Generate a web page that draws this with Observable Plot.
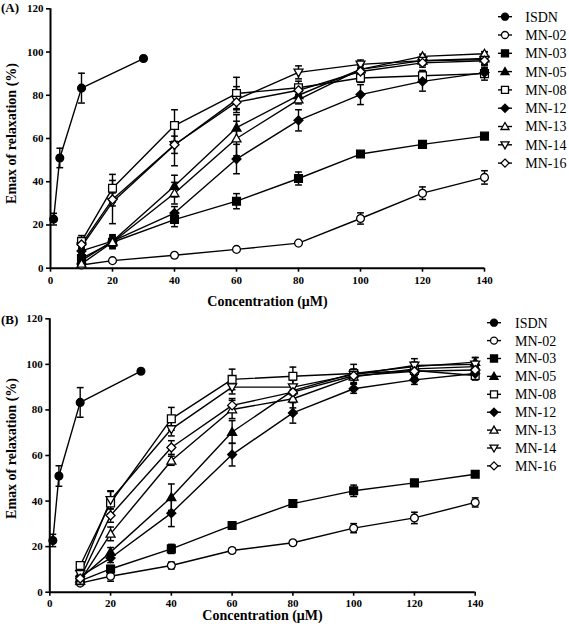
<!DOCTYPE html>
<html>
<head>
<meta charset="utf-8">
<script src="https://cdn.jsdelivr.net/npm/d3@7"></script>
<script src="https://cdn.jsdelivr.net/npm/@observablehq/plot@0.6"></script>
<style>
  html, body { margin: 0; padding: 0; background: white; }
  #root { position: relative; width: 569px; height: 633px; overflow: hidden; background: white; }
  .abs { position: absolute; }
  .plabel { font-family: "Liberation Serif", "Times New Roman", serif; font-weight: bold; font-size: 13px; color: black; line-height: 1; }
</style>
</head>
<body>
<div id="root"></div>
<script>
// ---------------- data ----------------
const seriesNames = ["ISDN", "MN-02", "MN-03", "MN-05", "MN-08", "MN-12", "MN-13", "MN-14", "MN-16"];
const isdnConc = [1, 3, 10, 30];
const mnConc = [10, 20, 40, 60, 80, 100, 120, 140];
const xTicks = [0, 20, 40, 60, 80, 100, 120, 140];
const yTicks = [0, 20, 40, 60, 80, 100, 120];
const xTitle = "Concentration (\u03bcM)";
const yTitle = "Emax of relaxation (%)";
const panelTitles = ["(A)", "(B)"];

// Panel A: means and SEM
const A_ISDN = [22.7, 51, 83.3, 97];
const A_ISDN_err = [2.7, 4.5, 6.9, 0];
const A_MN02 = [1.5, 3.5, 6, 8.7, 11.6, 23, 34.7, 42];
const A_MN02_err = [0.5, 1, 1, 1, 1, 2.6, 2.9, 3.1];
const A_MN03 = [4.5, 12, 22.5, 31, 41.5, 52.8, 57.3, 61.1];
const A_MN03_err = [1, 2, 3.3, 3.5, 3, 1, 1, 1];
const A_MN05 = [3.5, 12.5, 38, 65, 80, 92, 96, 97];
const A_MN05_err = [1, 3, 5, 6, 3, 2, 2, 3];
const A_MN08 = [12.4, 37, 66, 80.8, 83.5, 88, 89, 90];
const A_MN08_err = [2.7, 6.4, 7.3, 7.5, 3, 2, 2.5, 3];
const A_MN12 = [8, 12.5, 25.5, 50.5, 68.4, 80.3, 86.4, 90.5];
const A_MN12_err = [1, 2, 3, 6.8, 4.9, 4.6, 4.5, 2];
const A_MN13 = [2, 12, 34.7, 60, 78, 92, 98, 99.2];
const A_MN13_err = [1, 3, 5, 8, 2, 2, 1, 1];
const A_MN14 = [10, 30.6, 57, 78, 90.6, 94.3, 96, 96.5];
const A_MN14_err = [2, 10, 9.6, 6, 3, 2, 2, 2];
const A_MN16 = [11, 31.8, 57.1, 76.8, 82.3, 91, 95, 96];
const A_MN16_err = [2, 3, 4, 3, 2, 2, 2, 2];

// Panel B: means and SEM
const B_ISDN = [22.7, 51, 83.3, 97];
const B_ISDN_err = [2.7, 4.5, 6.5, 0];
const B_MN02 = [4, 7, 11.7, 18.3, 21.7, 28.1, 32.6, 39.4];
const B_MN02_err = [1, 2.2, 1.5, 1, 1, 2, 2.5, 2];
const B_MN03 = [5, 10.2, 19, 29.3, 38.9, 44.5, 48, 51.8];
const B_MN03_err = [1, 1.5, 2, 1, 1.5, 2.5, 1, 1];
const B_MN05 = [6, 17.6, 41.7, 70.3, 88.5, 96, 99, 101];
const B_MN05_err = [1, 2, 5.8, 5, 2, 2, 2, 2];
const B_MN08 = [11.7, 39.2, 76.1, 93.4, 94.8, 96, 97.3, 95.1];
const B_MN08_err = [1.5, 5, 5, 4.5, 4, 4, 3, 2];
const B_MN12 = [7, 15, 34.7, 60.4, 78.7, 89.3, 93.2, 96];
const B_MN12_err = [1.5, 2, 5.9, 5, 4.5, 2, 2, 2];
const B_MN13 = [5, 25.6, 57.7, 80.2, 84.9, 94.5, 98, 99];
const B_MN13_err = [1, 3, 2, 4, 4, 3, 2, 2];
const B_MN14 = [8, 40.5, 71.6, 90, 90, 95.5, 99.5, 100];
const B_MN14_err = [2, 4, 3, 3, 3, 2, 3, 3];
const B_MN16 = [6, 33.7, 63.5, 82, 87.8, 95, 97, 97.5];
const B_MN16_err = [1.5, 3, 3, 3, 3, 2, 2, 2];

// ---------------- symbols ----------------
function rOf(size) { return Math.sqrt(size / Math.PI); }
const symSquare = { draw(c, size) { const r = rOf(size); c.rect(-r, -r, 2 * r, 2 * r); } };
const symTriUp = { draw(c, size) { const r = rOf(size); c.moveTo(0, -1.15 * r); c.lineTo(1.15 * r, 0.85 * r); c.lineTo(-1.15 * r, 0.85 * r); c.closePath(); } };
const symTriDown = { draw(c, size) { const r = rOf(size); c.moveTo(0, 1.15 * r); c.lineTo(1.15 * r, -0.85 * r); c.lineTo(-1.15 * r, -0.85 * r); c.closePath(); } };
const symDiamond = { draw(c, size) { const r = rOf(size) * 1.15; c.moveTo(0, -r); c.lineTo(r, 0); c.lineTo(0, r); c.lineTo(-r, 0); c.closePath(); } };
const symCircle = { draw(c, size) { const r = rOf(size); c.moveTo(r, 0); c.arc(0, 0, r, 0, 2 * Math.PI); } };
const symCap = { draw(c, size) { const r = rOf(size); c.moveTo(-r, 0); c.lineTo(r, 0); } };

const styleOf = {
  "ISDN": { symbol: symCircle, fill: "black" },
  "MN-02": { symbol: symCircle, fill: "white" },
  "MN-03": { symbol: symSquare, fill: "black" },
  "MN-05": { symbol: symTriUp, fill: "black" },
  "MN-08": { symbol: symSquare, fill: "white" },
  "MN-12": { symbol: symDiamond, fill: "black" },
  "MN-13": { symbol: symTriUp, fill: "white" },
  "MN-14": { symbol: symTriDown, fill: "white" },
  "MN-16": { symbol: symDiamond, fill: "white" }
};

function rows(name, xs, ys, es) {
  return xs.map((x, i) => ({ series: name, x, y: ys[i], e: es[i] }));
}

const panelA = [
  rows("ISDN", isdnConc, A_ISDN, A_ISDN_err),
  rows("MN-02", mnConc, A_MN02, A_MN02_err),
  rows("MN-03", mnConc, A_MN03, A_MN03_err),
  rows("MN-05", mnConc, A_MN05, A_MN05_err),
  rows("MN-08", mnConc, A_MN08, A_MN08_err),
  rows("MN-12", mnConc, A_MN12, A_MN12_err),
  rows("MN-13", mnConc, A_MN13, A_MN13_err),
  rows("MN-14", mnConc, A_MN14, A_MN14_err),
  rows("MN-16", mnConc, A_MN16, A_MN16_err)
];
const panelB = [
  rows("ISDN", isdnConc, B_ISDN, B_ISDN_err),
  rows("MN-02", mnConc, B_MN02, B_MN02_err),
  rows("MN-03", mnConc, B_MN03, B_MN03_err),
  rows("MN-05", mnConc, B_MN05, B_MN05_err),
  rows("MN-08", mnConc, B_MN08, B_MN08_err),
  rows("MN-12", mnConc, B_MN12, B_MN12_err),
  rows("MN-13", mnConc, B_MN13, B_MN13_err),
  rows("MN-14", mnConc, B_MN14, B_MN14_err),
  rows("MN-16", mnConc, B_MN16, B_MN16_err)
];

const FONT = "'Liberation Serif', 'Times New Roman', serif";

function makePanel(groups, L) {
  const all = groups.flat();
  const withErr = all.filter(d => d.e > 0);
  const marks = [
    Plot.axisY({ ticks: yTicks, tickSize: 4, tickPadding: 3, label: null, strokeWidth: 1.6, fontSize: 11 }),
    Plot.axisX({ ticks: xTicks, tickSize: 4, tickPadding: L.xTickPad, label: null, strokeWidth: 1.6, fontSize: 11 }),
    Plot.ruleX([0], { strokeWidth: 2 }),
    Plot.ruleY([0], { strokeWidth: 2 }),
    Plot.text([xTitle], { text: d => d, frameAnchor: "bottom", dy: L.xTitleDy, textAnchor: "middle", lineAnchor: "middle", fontSize: 14, fontWeight: "bold" }),
    Plot.text([yTitle], { text: d => d, frameAnchor: "left", dx: -38.5, dy: L.yTitleDy, rotate: -90, textAnchor: "middle", lineAnchor: "middle", fontSize: 14, fontWeight: "bold" }),
    Plot.line(all, { x: "x", y: "y", z: "series", stroke: "black", strokeWidth: 1.4 }),
    Plot.ruleX(withErr, { x: "x", y1: d => d.y - d.e, y2: d => d.y + d.e, stroke: "black", strokeWidth: 1.4 }),
    Plot.dot(withErr, { x: "x", y: d => d.y + d.e, symbol: symCap, r: 3.4, fill: "none", stroke: "black", strokeWidth: 1.5 }),
    Plot.dot(withErr, { x: "x", y: d => d.y - d.e, symbol: symCap, r: 3.4, fill: "none", stroke: "black", strokeWidth: 1.5 })
  ];
  for (const g of groups) {
    const st = styleOf[g[0].series];
    marks.push(Plot.dot(g, { x: "x", y: "y", symbol: st.symbol, r: 3.9, fill: st.fill, stroke: "black", strokeWidth: 1.3 }));
  }
  return Plot.plot({
    width: 569,
    height: L.height,
    marginLeft: L.ml, marginRight: L.mr, marginTop: L.mt, marginBottom: L.mb,
    x: { domain: [0, 140] },
    y: { domain: [0, 120] },
    style: { fontFamily: FONT, fontSize: "11px", fontWeight: "bold", color: "black", background: "transparent", overflow: "visible" },
    marks
  });
}

function makeLegend(L) {
  const svg = d3.create("svg").attr("width", 90).attr("height", 180)
    .style("position", "absolute").style("left", L.left + "px").style("top", L.top + "px").style("overflow", "visible");
  seriesNames.forEach((name, i) => {
    const y = L.y0 + i * L.dy;
    const st = styleOf[name];
    svg.append("line").attr("x1", 0).attr("x2", 14).attr("y1", y).attr("y2", y)
      .attr("stroke", "black").attr("stroke-width", 1.4);
    svg.append("path").attr("transform", `translate(7,${y})`)
      .attr("d", d3.symbol().type(st.symbol).size(Math.PI * 3.5 * 3.5)())
      .attr("fill", st.fill).attr("stroke", "black").attr("stroke-width", 1.3);
    svg.append("text").attr("x", L.textX).attr("y", y).attr("dy", "0.35em")
      .attr("font-family", FONT).attr("font-size", 14).attr("fill", "black").text(name);
  });
  return svg.node();
}

const root = document.getElementById("root");

const LA = { top: 0, height: 310, ml: 50, mr: 85, mt: 8.3, mb: 42.3, xTickPad: 4, xTitleDy: 33.5, yTitleDy: -5 };
const LB = { top: 310, height: 323, ml: 49.3, mr: 94.3, mt: 8.3, mb: 41.3, xTickPad: 2.5, xTitleDy: 23, yTitleDy: -7 };

[[panelA, LA], [panelB, LB]].forEach(([groups, L]) => {
  const p = makePanel(groups, L);
  p.style.position = "absolute";
  p.style.left = "0px";
  p.style.top = L.top + "px";
  root.appendChild(p);
});

root.appendChild(makeLegend({ left: 497.7, top: 0, y0: 16.7, dy: 18.3, textX: 27.3 }));
root.appendChild(makeLegend({ left: 487, top: 310, y0: 12.7, dy: 17.9, textX: 28 }));

panelTitles.forEach((t, i) => {
  const d = document.createElement("div");
  d.className = "abs plabel";
  d.style.left = "1px";
  d.style.top = (i === 0 ? 1 : 313) + "px";
  d.textContent = t;
  root.appendChild(d);
});
</script>
</body>
</html>
